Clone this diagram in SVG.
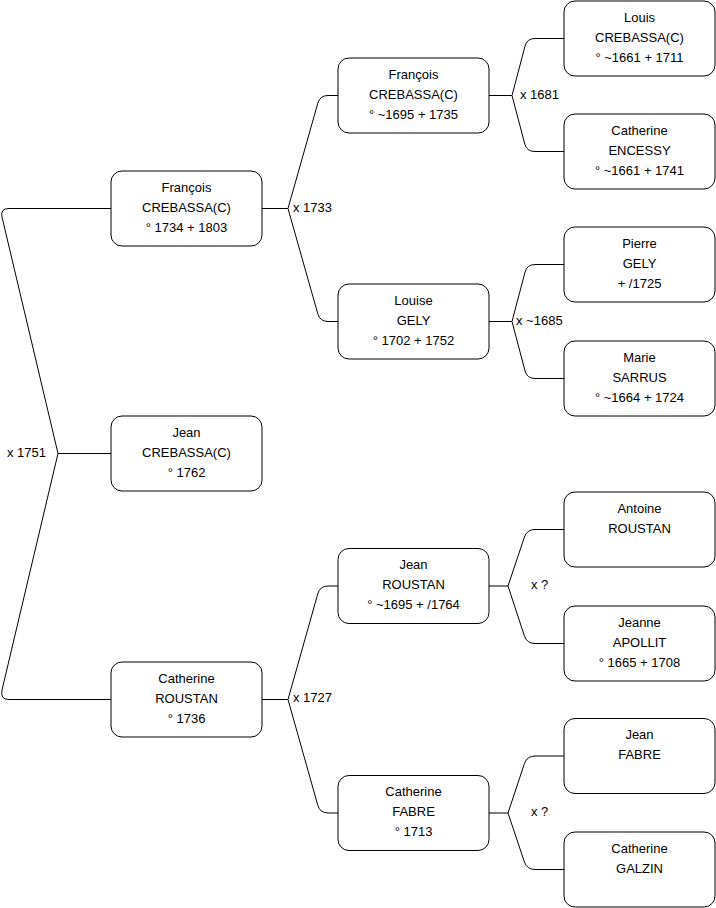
<svg xmlns="http://www.w3.org/2000/svg" width="716" height="908" viewBox="0 0 716 908">
<style>
.n rect{fill:#fff;stroke:#000;stroke-width:1}
text{font-family:"Liberation Sans",Arial,sans-serif;font-size:13px;fill:#000}
.n text{text-anchor:middle}
.c path{fill:none;stroke:#000;stroke-width:1}
</style>
<rect width="716" height="908" fill="#fff"/>
<g class="c" id="connectors">
<path d="M111,453.5 H58 L2,217 Q0,208.5 9,208.5 H111"/>
<path d="M58,453.5 L2,690 Q0,699.5 9,699.5 H111"/>
<path d="M262,208.5 H288 L317.8,103.2 Q320,95.5 328,95.5 H338"/>
<path d="M288,208.5 L317.8,313.8 Q320,321.5 328,321.5 H338"/>
<path d="M262,699.5 H288 L317.8,593.7 Q320,586 328,586 H338"/>
<path d="M288,699.5 L317.8,805.3 Q320,813 328,813 H338"/>
<path d="M489,95.5 H512 L525,46.2 Q527,38.5 535,38.5 H564"/>
<path d="M512,95.5 L525,144.8 Q527,151.5 535,151.5 H564"/>
<path d="M489,321.5 H512 L525,272.2 Q527,264.5 535,264.5 H564"/>
<path d="M512,321.5 L525,370.8 Q527,378.5 535,378.5 H564"/>
<path d="M489,586 H508 L524.4,537.1 Q527,529.5 535,529.5 H564"/>
<path d="M508,586 L524.4,635.9 Q527,643.5 535,643.5 H564"/>
<path d="M489,813 H508 L524.4,763.6 Q527,756 535,756 H564"/>
<path d="M508,813 L524.4,861.9 Q527,869.5 535,869.5 H564"/>
<text x="7" y="456.5">x 1751</text>
<text x="293" y="212">x 1733</text>
<text x="293" y="701.5">x 1727</text>
<text x="520" y="99">x 1681</text>
<text x="516" y="325">x ~1685</text>
<text x="531" y="589">x ?</text>
<text x="531" y="816">x ?</text>
</g>
<g class="n" id="francois1"><rect x="111" y="171" width="151" height="75" rx="11"/><text x="186.5" y="191.5">François</text><text x="186.5" y="211.5">CREBASSA(C)</text><text x="186.5" y="231.5">° 1734 + 1803</text></g>
<g class="n" id="jean1"><rect x="111" y="416" width="151" height="75" rx="11"/><text x="186.5" y="436.5">Jean</text><text x="186.5" y="456.5">CREBASSA(C)</text><text x="186.5" y="476.5">° 1762</text></g>
<g class="n" id="catherine1"><rect x="111" y="662" width="151" height="75" rx="11"/><text x="186.5" y="682.5">Catherine</text><text x="186.5" y="702.5">ROUSTAN</text><text x="186.5" y="722.5">° 1736</text></g>
<g class="n" id="francois2"><rect x="338" y="58" width="151" height="75" rx="11"/><text x="413.5" y="78.5">François</text><text x="413.5" y="98.5">CREBASSA(C)</text><text x="413.5" y="118.5">° ~1695 + 1735</text></g>
<g class="n" id="louise2"><rect x="338" y="284" width="151" height="75" rx="11"/><text x="413.5" y="304.5">Louise</text><text x="413.5" y="324.5">GELY</text><text x="413.5" y="344.5">° 1702 + 1752</text></g>
<g class="n" id="jean2"><rect x="338" y="548.5" width="151" height="75" rx="11"/><text x="413.5" y="569">Jean</text><text x="413.5" y="589">ROUSTAN</text><text x="413.5" y="609">° ~1695 + /1764</text></g>
<g class="n" id="catherine2"><rect x="338" y="775.5" width="151" height="75" rx="11"/><text x="413.5" y="796">Catherine</text><text x="413.5" y="816">FABRE</text><text x="413.5" y="836">° 1713</text></g>
<g class="n" id="louis3"><rect x="564" y="1" width="151" height="75" rx="11"/><text x="639.5" y="21.5">Louis</text><text x="639.5" y="41.5">CREBASSA(C)</text><text x="639.5" y="61.5">° ~1661 + 1711</text></g>
<g class="n" id="catherine3"><rect x="564" y="114" width="151" height="75" rx="11"/><text x="639.5" y="134.5">Catherine</text><text x="639.5" y="154.5">ENCESSY</text><text x="639.5" y="174.5">° ~1661 + 1741</text></g>
<g class="n" id="pierre3"><rect x="564" y="227" width="151" height="75" rx="11"/><text x="639.5" y="247.5">Pierre</text><text x="639.5" y="267.5">GELY</text><text x="639.5" y="287.5">+ /1725</text></g>
<g class="n" id="marie3"><rect x="564" y="341" width="151" height="75" rx="11"/><text x="639.5" y="361.5">Marie</text><text x="639.5" y="381.5">SARRUS</text><text x="639.5" y="401.5">° ~1664 + 1724</text></g>
<g class="n" id="antoine3"><rect x="564" y="492" width="151" height="75" rx="11"/><text x="639.5" y="512.5">Antoine</text><text x="639.5" y="532.5">ROUSTAN</text></g>
<g class="n" id="jeanne3"><rect x="564" y="606" width="151" height="75" rx="11"/><text x="639.5" y="626.5">Jeanne</text><text x="639.5" y="646.5">APOLLIT</text><text x="639.5" y="666.5">° 1665 + 1708</text></g>
<g class="n" id="jeanf3"><rect x="564" y="718.5" width="151" height="75" rx="11"/><text x="639.5" y="739">Jean</text><text x="639.5" y="759">FABRE</text></g>
<g class="n" id="galzin3"><rect x="564" y="832" width="151" height="75" rx="11"/><text x="639.5" y="852.5">Catherine</text><text x="639.5" y="872.5">GALZIN</text></g>
</svg>
